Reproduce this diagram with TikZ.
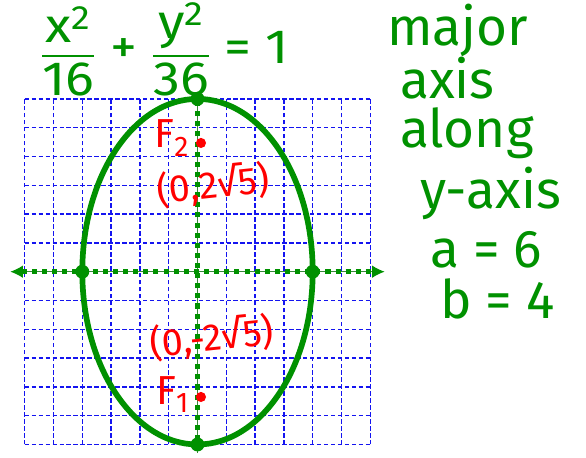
\documentclass[tikz,border=0pt]{standalone}
\usepackage{amsmath,amssymb}
\usepackage{xcolor}
\usepackage{fontspec}
\setmainfont{Fira Sans}
\usetikzlibrary{positioning,arrows.meta}
\definecolor{penGreen}{RGB}{0,145,0}
\definecolor{penRed}{RGB}{255,0,0}
\definecolor{gridBlue}{RGB}{20,20,240}
\tikzset{
  gridline/.style={draw=gridBlue,line width=1.2pt,dash pattern=on 3.5pt off 2pt},
  axisline/.style={penGreen!55!gray,line width=1pt},
  axisdots/.style={penGreen,line width=4pt,dash pattern=on 4pt off 4pt},
  pendot/.style={circle,fill=penGreen,inner sep=0pt,minimum size=11pt},
  reddot/.style={circle,fill=penRed,inner sep=0pt,minimum size=8pt},
  note/.style={penGreen,font=\fontsize{42}{46}\selectfont,anchor=base west,inner sep=0pt},
  redlabel/.style={penRed,font=\fontsize{30}{32}\selectfont,inner sep=1pt},
}
\newcommand{\tx}[1]{\text{#1}}

\begin{document}
\begin{tikzpicture}[x=0.8cm,y=0.8cm]
\useasboundingbox (-6.858,-6.469) rectangle (13.49,9.434);
\foreach \k in {-6,...,6} {
  \draw[gridline] (\k,-6) -- (\k,6);
  \draw[gridline] (-6,\k) -- (6,\k);
}
% axes
\coordinate (xl) at (-6.5,0);
\coordinate (xr) at (6.5,0);
\coordinate (yt) at (0,6.2);
\coordinate (yb) at (0,-6.3);
\draw[axisline,{Latex[length=10pt,width=10pt,color=penGreen]}-{Latex[length=10pt,width=10pt,color=penGreen]}] (xl)--(xr);
\draw[axisline] (yb)--(yt);
\draw[axisdots] (-6.1,0)--(6.1,0);
\draw[axisdots] (0,-6.2)--(0,6.1);
% ellipse and its points
\draw[penGreen,line width=4.5pt] (0,0) ellipse [x radius=4,y radius=6];
\node[pendot] (top) at (0,6) {};
\node[pendot] (bot) at (0,-6) {};
\node[pendot] (lft) at (-4,0) {};
\node[pendot] (rgt) at (4,0) {};
% foci
\node[reddot] (F2) at (0.12,4.47) {};
\node[reddot] (F1) at (0.12,-4.35) {};
\node[redlabel,font=\fontsize{32}{34}\selectfont,left=4pt of F2,yshift=4pt] (F2lab) {F\textsubscript{2}};
\node[redlabel,font=\fontsize{32}{34}\selectfont,left=4pt of F1,yshift=2pt] (F1lab) {F\textsubscript{1}};
\node[redlabel,rotate=6] (F2pt) at (0.55,3.0) {(0,2√5)};
\node[redlabel,rotate=6] (F1pt) at (0.5,-2.3) {(0,-2√5)};
% equation
\node[penGreen,font=\fontsize{38}{42}\selectfont,inner sep=0pt] (eqn) at (-1.13,7.72)
  {\scalebox{1.12}[1]{$\dfrac{\tx{x}^{\tx{2}}}{\tx{16}}\tx{ + }\dfrac{\tx{y}^{\tx{2}}}{\tx{36}}\tx{ = 1}$}};
% notes
\node[note] (major) at (6.58,7.87) {major};
\node[note] (axis) at (7.03,6.03) {axis};
\node[note] (along) at (7.03,4.30) {along};
\node[note] (yaxis) at (7.73,2.21) {y-axis};
\node[note] (aval) at (8.07,0.13) {a = 6};
\node[note] (bval) at (8.42,-1.61) {b = 4};
\end{tikzpicture}
\end{document}
